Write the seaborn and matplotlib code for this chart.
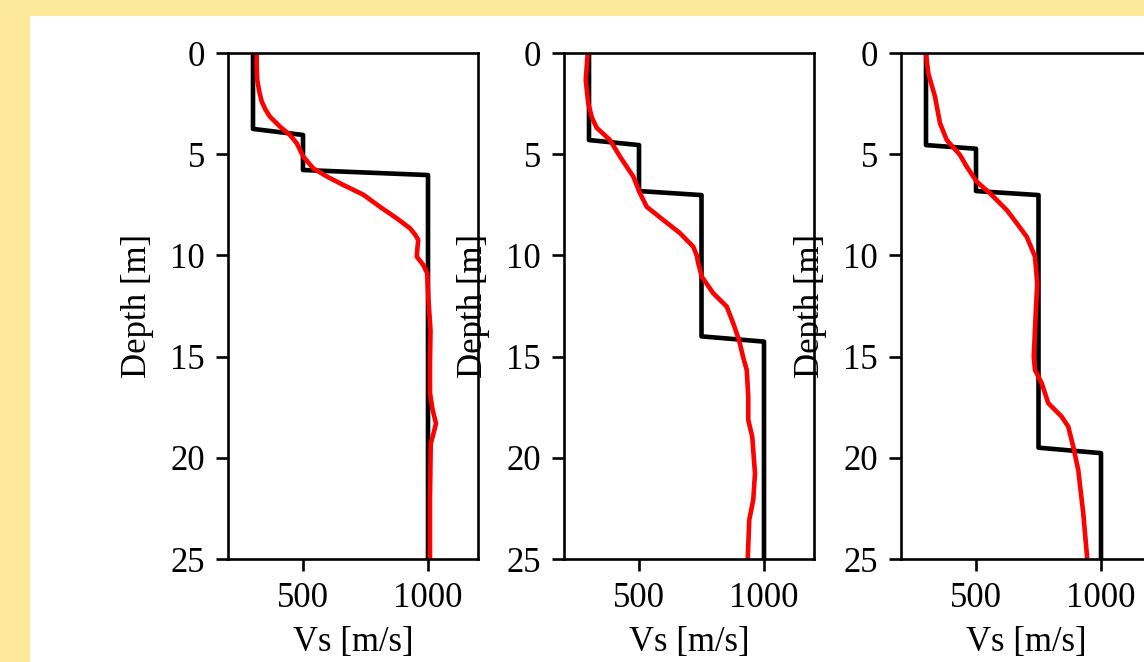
import matplotlib
matplotlib.use("Agg")
import matplotlib.pyplot as plt
import seaborn as sns
import pandas as pd
from matplotlib.patches import Rectangle

# Layered (true) Vs profiles: step models
depth_step_1 = [0, 3.75, 4.05, 5.78, 6.03, 25]
vs_step_1 = [300, 300, 500, 500, 1000, 1000]

depth_step_2 = [0, 4.3, 4.55, 6.82, 7.02, 14.0, 14.26, 25]
vs_step_2 = [300, 300, 500, 500, 750, 750, 1000, 1000]

depth_step_3 = [0, 4.55, 4.73, 6.82, 7.02, 19.5, 19.77, 25]
vs_step_3 = [300, 300, 500, 500, 750, 750, 1000, 1000]

# Inverted (smooth) Vs profiles
depth_inv_1 = [0, 0.7, 1.33, 1.9, 2.4, 2.8, 3.15, 3.64, 4.05, 4.46, 5.12, 5.7,
               6.1, 6.52, 7.0, 7.6, 8.17, 8.66, 9.0, 9.24, 9.6, 10.06, 10.47,
               10.89, 12.04, 13.7, 15.3, 16.8, 17.6, 18.3, 18.8, 19.3, 21.9, 25]
vs_inv_1 = [315, 315, 317, 325, 335, 350, 368, 408, 448, 475, 501, 541,
            595, 661, 741, 808, 875, 928, 950, 961, 958, 955, 981,
            997, 1001, 1010, 1008, 1008, 1018, 1032, 1022, 1011, 1008, 1008]

depth_inv_2 = [0, 1.33, 2.5, 3.2, 3.7, 4.3, 5.12, 6.1, 6.93, 7.6, 8.25, 8.9,
               9.57, 10.0, 10.39, 11.05, 11.87, 12.53, 13.36, 14.18, 15.1,
               15.66, 16.98, 18.13, 18.96, 20.77, 22.08, 23.07, 25]
vs_inv_2 = [295, 287, 297, 312, 331, 384, 424, 477, 504, 531, 597, 664,
            717, 731, 737, 751, 797, 851, 877, 900, 918,
            931, 937, 937, 953, 964, 957, 941, 935]

depth_inv_3 = [0, 1.0, 2.16, 3.47, 4.3, 5.04, 5.62, 6.36, 6.93, 7.76, 8.41,
               9.08, 10.06, 11.38, 12.86, 15.0, 15.66, 16.32, 17.3, 17.97,
               18.46, 19.45, 20.6, 22.74, 25]
vs_inv_3 = [300, 309, 336, 356, 383, 436, 463, 503, 556, 623, 663,
            703, 736, 745, 739, 731, 736, 763, 789, 843,
            869, 889, 909, 929, 945]

x_ticks = [500, 1000]
y_ticks = [0, 5, 10, 15, 20, 25]
x_label = "Vs [m/s]"
y_label = "Depth [m]"

# scale factor for a high-resolution look at 100 dpi
s = 2.376
sns.set_style("ticks")
plt.rcParams.update({
    "font.family": "serif",
    "font.serif": ["Liberation Serif", "DejaVu Serif"],
    "font.size": 25,
    "axes.labelsize": 25,
    "xtick.labelsize": 25,
    "ytick.labelsize": 25,
    "axes.linewidth": 0.8 * s,
    "xtick.major.width": 0.8 * s,
    "ytick.major.width": 0.8 * s,
    "xtick.major.size": 3.5 * s,
    "ytick.major.size": 3.5 * s,
    "xtick.major.pad": 3.5 * s,
    "ytick.major.pad": 3.5 * s,
    "axes.labelpad": 11.5,
    "axes.edgecolor": "black",
    "xtick.color": "black",
    "ytick.color": "black",
    "text.color": "black",
    "axes.labelcolor": "black",
    "xtick.direction": "out",
    "ytick.direction": "out",
    "lines.solid_joinstyle": "round",
})

W, H = 1144, 662
fig = plt.figure(figsize=(W / 100, H / 100), dpi=100)
fig.patch.set_facecolor("#FEE99A")
fig.patches.append(Rectangle((30 / W, 0), (W - 30) / W, (H - 16) / H,
                             transform=fig.transFigure, facecolor="white",
                             edgecolor="none", zorder=-5))

profiles = [
    (depth_step_1, vs_step_1, depth_inv_1, vs_inv_1),
    (depth_step_2, vs_step_2, depth_inv_2, vs_inv_2),
    (depth_step_3, vs_step_3, depth_inv_3, vs_inv_3),
]
lefts = [228, 564, 901]
ax_w, ax_top, ax_bot = 250, 53, 559

for left, (d_s, v_s, d_i, v_i) in zip(lefts, profiles):
    ax = fig.add_axes([left / W, (H - ax_bot) / H, ax_w / W, (ax_bot - ax_top) / H])
    ax.set_facecolor("white")
    step = pd.DataFrame({"vs": v_s, "depth": d_s})
    inv = pd.DataFrame({"vs": v_i, "depth": d_i})
    sns.lineplot(data=step, x="vs", y="depth", sort=False, estimator=None,
                 color="black", linewidth=1.4 * s, ax=ax)
    sns.lineplot(data=inv, x="vs", y="depth", sort=False, estimator=None,
                 color="red", linewidth=1.4 * s, ax=ax)
    ax.set_xlim(200, 1200)
    ax.set_ylim(25, 0)
    ax.set_xticks(x_ticks)
    ax.set_yticks(y_ticks)
    ax.set_xlabel(x_label, labelpad=8)
    ax.set_ylabel(y_label)
    for sp in ax.spines.values():
        sp.set_visible(True)
        sp.set_color("black")

fig.savefig("out.png", dpi=100, facecolor=fig.get_facecolor())
